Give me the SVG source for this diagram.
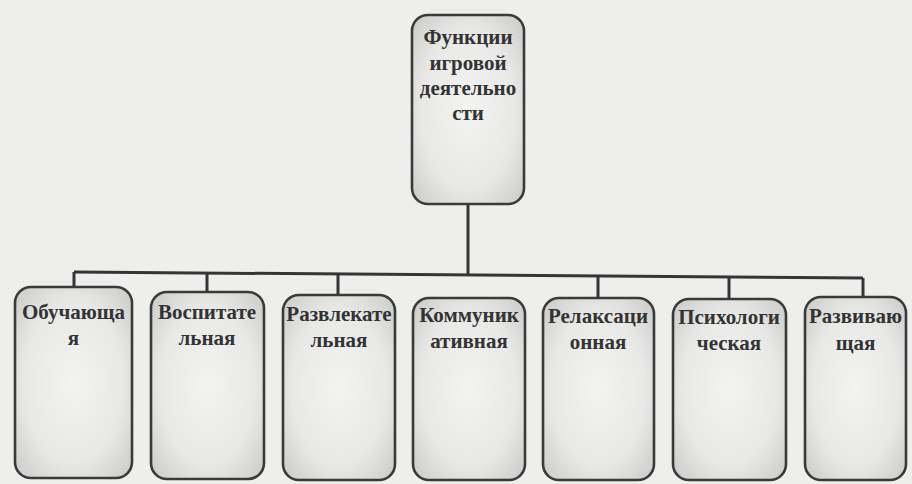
<svg xmlns="http://www.w3.org/2000/svg" width="912" height="484" viewBox="0 0 912 484">
<defs>
<radialGradient id="g" cx="50%" cy="50%" r="65%">
<stop offset="0" stop-color="#f3f3f2"/>
<stop offset="0.65" stop-color="#e8e8e7"/>
<stop offset="1" stop-color="#cfcfce"/>
</radialGradient>
<style>
.box{fill:url(#g);stroke:#3a3a3a;stroke-width:2.6}
.t{font-family:"Liberation Serif","DejaVu Serif",serif;font-weight:bold;font-size:21px;fill:#333;text-anchor:middle}
.c{stroke:#353535;stroke-width:3;fill:none}
</style>
</defs>
<rect width="912" height="484" fill="#eeeeec"/>
<g id="connectors">
<path class="c" d="M468 204 V276"/>
<path class="c" d="M74 272 L863 278"/>
<path class="c" d="M74 272 V287"/>
<path class="c" d="M207 273 V292"/>
<path class="c" d="M338 274.5 V295"/>
<path class="c" d="M598 277 V298"/>
<path class="c" d="M729 277.5 V299"/>
<path class="c" d="M863 278 V297"/>
</g>
<g id="root">
<rect class="box" x="412" y="15" width="112" height="189" rx="16"/>
<text class="t" x="468" y="44">Функции</text>
<text class="t" x="468" y="70">игровой</text>
<text class="t" x="468" y="95">деятельно</text>
<text class="t" x="468" y="120">сти</text>
</g>
<g id="n1">
<rect class="box" x="15" y="287" width="117" height="191" rx="16"/>
<text class="t" x="73.5" y="319">Обучающа</text>
<text class="t" x="73.5" y="345">я</text>
</g>
<g id="n2">
<rect class="box" x="151" y="292" width="113" height="187" rx="16"/>
<text class="t" x="207" y="319">Воспитате</text>
<text class="t" x="207" y="345">льная</text>
</g>
<g id="n3">
<rect class="box" x="283" y="295" width="112" height="185" rx="16"/>
<text class="t" x="339" y="321">Развлекате</text>
<text class="t" x="339" y="347">льная</text>
</g>
<g id="n4">
<rect class="box" x="413" y="298" width="112" height="182" rx="16"/>
<text class="t" x="469" y="322">Коммуник</text>
<text class="t" x="469" y="348">ативная</text>
</g>
<g id="n5">
<rect class="box" x="543" y="298" width="111" height="182" rx="16"/>
<text class="t" x="598" y="323">Релаксаци</text>
<text class="t" x="598" y="349">онная</text>
</g>
<g id="n6">
<rect class="box" x="673" y="299" width="113" height="181" rx="16"/>
<text class="t" x="729" y="324">Психологи</text>
<text class="t" x="729" y="350">ческая</text>
</g>
<g id="n7">
<rect class="box" x="805" y="297" width="101" height="183" rx="16"/>
<text class="t" x="855.5" y="323">Развиваю</text>
<text class="t" x="855.5" y="350">щая</text>
</g>
</svg>
